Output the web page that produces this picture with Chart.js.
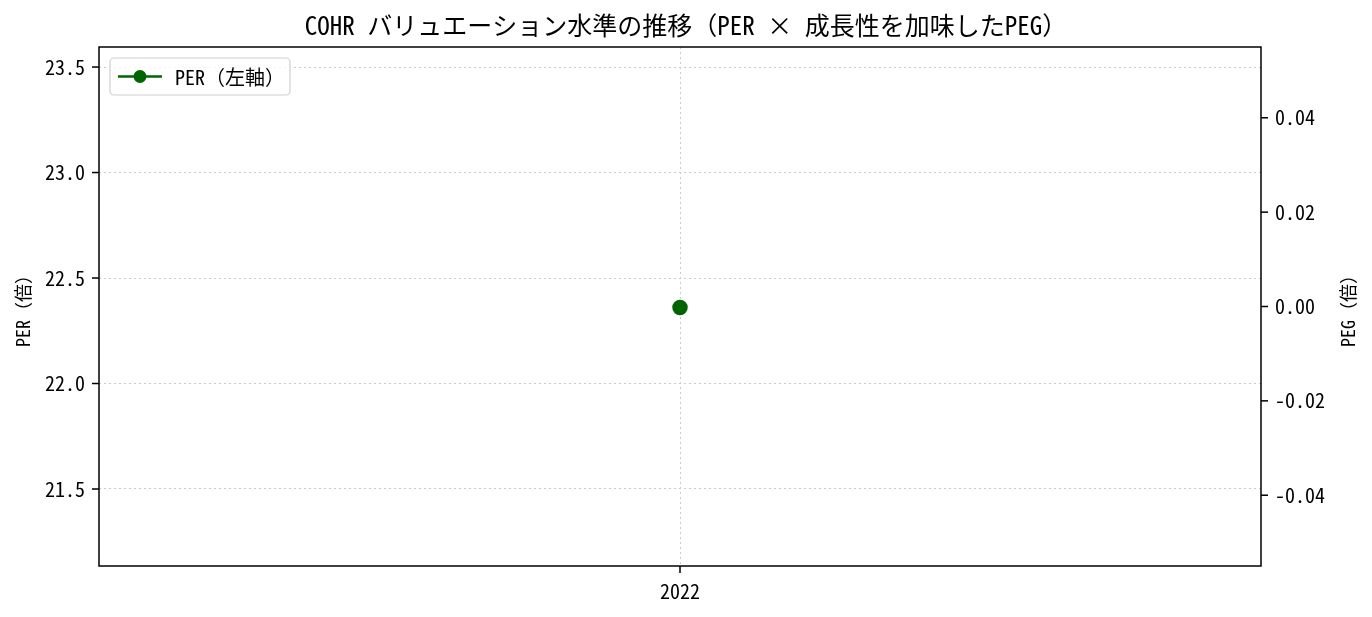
<!DOCTYPE html>
<html>
<head>
<meta charset="utf-8">
<script src="https://cdn.jsdelivr.net/npm/chart.js@4.4.1/dist/chart.umd.min.js"></script>
<style>
  html, body { margin: 0; padding: 0; background: #fff; }
  #wrap { width: 1372px; height: 617px; }
</style>
</head>
<body>
<div id="wrap"><canvas id="chart"></canvas></div>
<script>
// data
const years = ["2022"];
const perValues = [22.36];
const pegValues = [null];
const perTicks = [21.5, 22.0, 22.5, 23.0, 23.5];
const pegTicks = [-0.04, -0.02, 0.00, 0.02, 0.04];

const FONT = '"Noto Sans Mono CJK JP", "Noto Sans CJK JP", "DejaVu Sans Mono", monospace';
const GREEN = '#006400';

// matplotlib-like frame, outward tick marks, legend box and right title
const frameTicks = {
    id: 'frameTicks',
    afterDraw(chart) {
        const { ctx, chartArea: a, scales } = chart;
        ctx.save();
        ctx.fillStyle = '#000';
        perTicks.forEach(v => {
            const y = scales.y.getPixelForValue(v);
            ctx.fillRect(a.left - 7, y - 0.75, 7, 1.5);
        });
        pegTicks.forEach(v => {
            const y = scales.y1.getPixelForValue(v);
            ctx.fillRect(a.right, y - 0.75, 7, 1.5);
        });
        years.forEach((_, i) => {
            const x = scales.x.getPixelForValue(i);
            ctx.fillRect(x - 0.75, a.bottom, 1.5, 7);
        });
        ctx.strokeStyle = '#000';
        ctx.lineWidth = 1.5;
        ctx.strokeRect(a.left, a.top, a.right - a.left, a.bottom - a.top);

        // right axis title, reading bottom to top
        ctx.font = '18px ' + FONT;
        ctx.textAlign = 'center';
        ctx.textBaseline = 'middle';
        ctx.translate(1348, (a.top + a.bottom) / 2);
        ctx.rotate(-Math.PI / 2);
        ctx.fillText('PEG（倍）', 0, 0);
        ctx.restore();

        // legend
        const ds = chart.data.datasets[0];
        const lx = a.left + 11, ly = a.top + 11, lw = 180, lh = 37;
        ctx.save();
        ctx.fillStyle = 'rgba(255,255,255,0.8)';
        ctx.strokeStyle = '#d0d0d0';
        ctx.lineWidth = 1.2;
        ctx.beginPath();
        ctx.roundRect(lx, ly, lw, lh, 4);
        ctx.fill();
        ctx.stroke();
        const cy = ly + lh / 2;
        ctx.strokeStyle = GREEN;
        ctx.lineWidth = 2.5;
        ctx.beginPath();
        ctx.moveTo(lx + 8, cy); ctx.lineTo(lx + 52, cy);
        ctx.stroke();
        ctx.fillStyle = GREEN;
        ctx.beginPath();
        ctx.arc(lx + 30, cy, 6.5, 0, Math.PI * 2);
        ctx.fill();
        ctx.fillStyle = '#000';
        ctx.font = '20px ' + FONT;
        ctx.textAlign = 'left';
        ctx.textBaseline = 'middle';
        ctx.fillText(ds.label, lx + 65, cy + 1);
        ctx.restore();
    }
};

new Chart(document.getElementById('chart'), {
    type: 'line',
    data: {
        labels: years,
        datasets: [{
            label: 'PER（左軸）',
            data: perValues,
            yAxisID: 'y',
            borderColor: GREEN,
            backgroundColor: GREEN,
            borderWidth: 2.5,
            pointRadius: 6.5,
            pointHoverRadius: 6.5
        }, {
            label: 'PEG（右軸）',
            data: pegValues,
            yAxisID: 'y1',
            borderColor: '#1f77b4',
            backgroundColor: '#1f77b4'
        }]
    },
    options: {
        responsive: true,
        maintainAspectRatio: false,
        animation: false,
        layout: { padding: 0 },
        plugins: {
            title: {
                display: true,
                text: 'COHR バリュエーション水準の推移（PER × 成長性を加味したPEG）',
                color: '#000',
                font: { family: FONT, size: 25, weight: 'normal' },
                padding: { top: 10, bottom: 7 }
            },
            legend: { display: false },
            tooltip: { enabled: false }
        },
        scales: {
            x: {
                offset: true,
                grid: { color: '#cccccc', drawTicks: false },
                border: { display: false, dash: [2, 3] },
                ticks: { color: '#000', font: { family: FONT, size: 20 }, padding: 13 },
                afterFit: s => { s.height = 51; }
            },
            y: {
                position: 'left',
                min: 21.135,
                max: 23.595,
                afterBuildTicks: s => { s.ticks = perTicks.map(v => ({ value: v })); },
                grid: { color: '#cccccc', drawTicks: false },
                border: { display: false, dash: [2, 3] },
                ticks: {
                    color: '#000', font: { family: FONT, size: 20 }, padding: 14,
                    callback: v => v.toFixed(1)
                },
                title: { display: true, text: 'PER（倍）', color: '#000', font: { family: FONT, size: 18 }, padding: 12 },
                afterFit: s => { s.width = 99; }
            },
            y1: {
                position: 'right',
                min: -0.055,
                max: 0.055,
                afterBuildTicks: s => { s.ticks = pegTicks.map(v => ({ value: v })); },
                grid: { drawOnChartArea: false, drawTicks: false },
                border: { display: false },
                ticks: {
                    color: '#000', font: { family: FONT, size: 20 }, padding: 14,
                    callback: v => v.toFixed(2)
                },
                afterFit: s => { s.width = 111; }
            }
        }
    },
    plugins: [frameTicks]
});
</script>
</body>
</html>
